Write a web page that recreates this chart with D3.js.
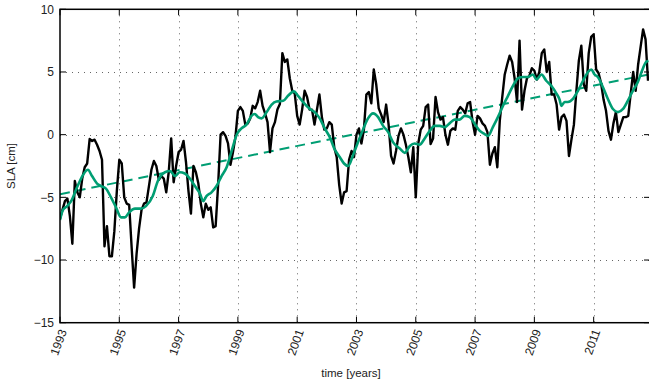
<!DOCTYPE html>
<html>
<head>
<meta charset="utf-8">
<script src="https://cdn.jsdelivr.net/npm/d3@7"></script>
<style>
  html, body { margin: 0; padding: 0; background: #fff; }
  svg { display: block; }
  text { font-family: "Liberation Sans", Arial, Helvetica, sans-serif; fill: #222; }
</style>
</head>
<body>
<div id="chart"></div>
<script>
// monthly sea level anomaly [cm], starting Jan 1993
const startYear = 1993;
const slaMonthly = [
  -6.7, -6.0, -5.3, -5.1, -6.5, -8.7, -3.7, -4.6, -5.0, -3.5, -2.6, -2.3,
  -0.35, -0.5, -0.4, -0.8, -1.3, -2.0, -8.9, -7.3, -9.7, -9.7, -7.7, -4.5,
  -2.0, -2.3, -5.0, -5.5, -5.6, -9.0, -12.2, -9.5, -7.5, -6.0, -5.5, -5.4,
  -4.1, -2.8, -2.1, -2.5, -3.6, -3.3, -3.5, -4.6, -3.0, -0.3, -3.8, -2.5,
  -1.4, -1.2, -0.5, -2.2, -4.5, -6.3, -2.5, -3.0, -3.9, -5.5, -6.6, -5.5,
  -6.0, -5.8, -7.4, -7.3, -4.0, 0.0, 0.2, -0.1, -0.7, -2.4, -1.4, -0.2,
  1.9, 2.2, 1.9, 0.8, 0.9, 1.3, 2.3, 2.1, 2.6, 3.5, 2.3, 1.7,
  1.0, -1.4, 0.5, 1.0, 2.0, 2.45, 6.5, 5.8, 6.0, 4.5, 3.5, 3.3,
  1.5, 0.8, 2.0, 3.5, 3.0, 2.0, 2.0, 0.8, 2.0, 3.2, 1.4, 0.4,
  0.5, 1.0, 0.8, -1.0, -1.8, -4.0, -5.5, -4.6, -4.5, -2.0, -1.3, -1.8,
  0.0, 0.5, -0.7, 0.4, 3.2, 3.4, 2.5, 5.2, 4.0, 2.1, 1.6, 1.0,
  2.4, 0.8, -1.7, -2.3, -1.3, -0.1, 0.5, 0.0, -0.8, -1.8, -3.0, -1.0,
  -5.0, -0.7, 0.4, 0.7, 2.2, 2.4, -0.75, -0.3, 3.0, 1.8, 1.2, 1.4,
  0.0, -0.8, 0.3, 0.5, 0.4, 1.9, 2.2, 2.0, 1.7, 2.5, 2.6, 1.0,
  0.0, 1.5, 1.3, 0.9, 0.7, 0.2, -2.4, -1.5, -1.0, -2.6, 1.1, 3.0,
  4.8, 5.6, 6.3, 5.8, 4.5, 2.6, 7.5, 2.0, 3.5, 4.5, 4.7, 5.3,
  5.1, 4.4, 5.0, 6.5, 6.8, 5.0, 5.8, 3.2, 3.2, 2.4, 0.4, 1.4,
  1.6, 1.1, -1.7, -0.4, 0.8, 3.5, 5.9, 7.1, 4.0, 3.5, 6.5, 7.8,
  8.0, 5.2, 4.9, 4.1, 2.8, 1.9, 0.3, -0.4, 0.9, 1.8, 0.2, 0.8,
  1.4, 1.4, 1.5, 3.3, 5.0, 3.5, 5.6, 7.0, 8.4, 7.6, 4.3
];

// low-pass filtered curve
const smoothYears = [
  1993.00, 1993.10, 1993.24, 1993.40, 1993.54, 1993.71, 1993.94, 1994.08, 1994.25, 1994.38,
  1994.55, 1994.72, 1994.89, 1995.06, 1995.19, 1995.33, 1995.53, 1995.73, 1995.90, 1996.13,
  1996.30, 1996.54, 1996.71, 1996.88, 1997.04, 1997.21, 1997.38, 1997.55, 1997.72, 1997.83,
  1997.94, 1998.11, 1998.28, 1998.45, 1998.62, 1998.79, 1998.96, 1999.12, 1999.29, 1999.46,
  1999.57, 1999.68, 1999.80, 1999.97, 2000.14, 2000.30, 2000.53, 2000.69, 2000.89, 2001.03,
  2001.20, 2001.43, 2001.59, 2001.76, 2001.93, 2002.10, 2002.27, 2002.44, 2002.58, 2002.72,
  2002.89, 2003.05, 2003.22, 2003.39, 2003.56, 2003.73, 2003.90, 2004.07, 2004.23, 2004.46,
  2004.63, 2004.80, 2004.96, 2005.13, 2005.30, 2005.47, 2005.64, 2005.81, 2005.98, 2006.14,
  2006.31, 2006.48, 2006.65, 2006.82, 2006.99, 2007.16, 2007.32, 2007.44, 2007.60, 2007.77,
  2007.94, 2008.11, 2008.28, 2008.45, 2008.62, 2008.78, 2008.95, 2009.07, 2009.24, 2009.40,
  2009.57, 2009.74, 2009.85, 2009.91, 2010.02, 2010.13, 2010.30, 2010.47, 2010.64, 2010.81,
  2010.92, 2011.03, 2011.14, 2011.31, 2011.48, 2011.65, 2011.82, 2011.99, 2012.15, 2012.32,
  2012.49, 2012.63, 2012.77, 2012.85
];
const smoothValues = [
  -6.8, -6.0, -5.7, -5.2, -4.4, -3.5, -2.8, -3.3, -3.9, -4.1,
  -4.3, -5.0, -5.8, -6.6, -6.6, -6.2, -5.9, -5.9, -5.7, -4.9,
  -3.7, -3.0, -2.9, -3.3, -3.0, -3.1, -3.5, -4.1, -4.7, -5.3,
  -4.9, -4.6, -4.1, -3.3, -2.6, -1.3, 0.0, 0.5, 0.8, 1.5,
  1.65, 1.4, 1.3, 1.8, 2.4, 2.65, 2.7, 3.1, 3.45, 3.1,
  2.6, 2.05, 1.8, 1.3, 0.5, -0.2, -1.2, -1.8, -2.3, -2.5,
  -1.6, -0.6, 0.4, 1.3, 1.7, 1.4, 0.7, 0.2, -0.6, -1.1,
  -1.45, -0.9, -0.7, -0.8, -0.3, 0.3, 0.7, 0.7, 0.6, 0.9,
  1.2, 1.2, 1.5, 1.4, 0.85, 0.3, 0.05, -0.1, 0.6, 1.4,
  2.3, 3.1, 3.9, 4.5, 4.6, 4.6, 4.8, 4.4, 4.8, 4.3,
  3.9, 3.3, 2.8, 2.3, 2.6, 2.6, 2.85, 3.5, 4.3, 5.0,
  5.2, 4.8, 4.6, 3.8, 2.85, 2.05, 1.8, 2.05, 2.7, 3.5,
  4.2, 5.1, 5.8, 5.9
];

// linear trend end points
const trendYears = [1993.0, 2012.85];
const trendValues = [-4.75, 4.8];

const xTicks = [1993, 1995, 1997, 1999, 2001, 2003, 2005, 2007, 2009, 2011];
const yTicks = [-15, -10, -5, 0, 5, 10];

const width = 649, height = 381;
const plotLeft = 60, plotTop = 9.3, plotRight = 650, plotBottom = 322.7;

const svg = d3.select("#chart").append("svg")
  .attr("width", width)
  .attr("height", height);

const x = d3.scaleLinear().domain([1993, 2012.9]).range([plotLeft, plotRight]);
const y = d3.scaleLinear().domain([-15, 10]).range([plotBottom, plotTop]);

svg.append("defs").append("clipPath").attr("id", "plot-clip")
  .append("rect")
  .attr("x", plotLeft).attr("y", plotTop)
  .attr("width", plotRight - plotLeft).attr("height", plotBottom - plotTop);

// dotted grid
const grid = svg.append("g").attr("stroke", "#666").attr("stroke-width", 1)
  .attr("stroke-dasharray", "1,5");
grid.selectAll("line.v")
  .data(xTicks.filter(d => d > 1993))
  .enter().append("line")
  .attr("class", "v")
  .attr("x1", d => Math.round(x(d)) + 0.5).attr("x2", d => Math.round(x(d)) + 0.5)
  .attr("y1", plotTop).attr("y2", plotBottom);
grid.selectAll("line.h")
  .data(yTicks.filter(d => d > -15 && d < 10))
  .enter().append("line")
  .attr("class", "h")
  .attr("x1", plotLeft).attr("x2", plotRight)
  .attr("y1", d => Math.round(y(d)) + 0.5).attr("y2", d => Math.round(y(d)) + 0.5);

const plot = svg.append("g").attr("clip-path", "url(#plot-clip)");

// trend (dashed)
plot.append("path")
  .datum(d3.zip(trendYears, trendValues))
  .attr("fill", "none")
  .attr("stroke", "#009e73")
  .attr("stroke-width", 2)
  .attr("stroke-dasharray", "10,6")
  .attr("d", d3.line().x(d => x(d[0])).y(d => y(d[1])));

// raw monthly series
plot.append("path")
  .datum(slaMonthly.map((v, i) => [startYear + i / 12, v]))
  .attr("fill", "none")
  .attr("stroke", "#000")
  .attr("stroke-width", 2.4)
  .attr("stroke-linejoin", "round")
  .attr("d", d3.line().x(d => x(d[0])).y(d => y(d[1])));

// smoothed series
plot.append("path")
  .datum(d3.zip(smoothYears, smoothValues))
  .attr("fill", "none")
  .attr("stroke", "#009e73")
  .attr("stroke-width", 2.6)
  .attr("stroke-linejoin", "round")
  .attr("d", d3.line().curve(d3.curveMonotoneX).x(d => x(d[0])).y(d => y(d[1])));

// axes box with inward ticks
const axes = svg.append("g").attr("stroke", "#000").attr("fill", "none");
axes.append("rect")
  .attr("x", plotLeft).attr("y", plotTop)
  .attr("width", plotRight - plotLeft).attr("height", plotBottom - plotTop)
  .attr("stroke-width", 1.5);

const tickLen = 6;
axes.selectAll("line.xt")
  .data(xTicks)
  .enter().append("line")
  .attr("x1", d => x(d)).attr("x2", d => x(d))
  .attr("y1", plotBottom).attr("y2", plotBottom - tickLen);
axes.selectAll("line.xtt")
  .data(xTicks)
  .enter().append("line")
  .attr("x1", d => x(d)).attr("x2", d => x(d))
  .attr("y1", plotTop).attr("y2", plotTop + tickLen);
axes.selectAll("line.yt")
  .data(yTicks)
  .enter().append("line")
  .attr("x1", plotLeft).attr("x2", plotLeft + tickLen)
  .attr("y1", d => y(d)).attr("y2", d => y(d));
axes.selectAll("line.ytr")
  .data(yTicks)
  .enter().append("line")
  .attr("x1", plotRight).attr("x2", plotRight - tickLen)
  .attr("y1", d => y(d)).attr("y2", d => y(d));

// tick labels
svg.append("g").selectAll("text")
  .data(yTicks)
  .enter().append("text")
  .attr("x", plotLeft - 6)
  .attr("y", d => y(d))
  .attr("dy", "0.35em")
  .attr("text-anchor", "end")
  .style("font-size", "12px")
  .text(d => d < 0 ? "\u2212" + Math.abs(d) : d);

svg.append("g").selectAll("text")
  .data(xTicks)
  .enter().append("text")
  .attr("transform", d => `translate(${x(d) + 3},${plotBottom + 7}) rotate(-70)`)
  .attr("text-anchor", "end")
  .attr("dy", "0.35em")
  .style("font-size", "12px")
  .text(d => d);

// axis titles
svg.append("text")
  .attr("x", 351).attr("y", 377)
  .attr("text-anchor", "middle")
  .style("font-size", "11.5px")
  .text("time [years]");

svg.append("text")
  .attr("transform", `translate(15,${(plotTop + plotBottom) / 2}) rotate(-90)`)
  .attr("text-anchor", "middle")
  .style("font-size", "11.5px")
  .text("SLA [cm]");
</script>
</body>
</html>
